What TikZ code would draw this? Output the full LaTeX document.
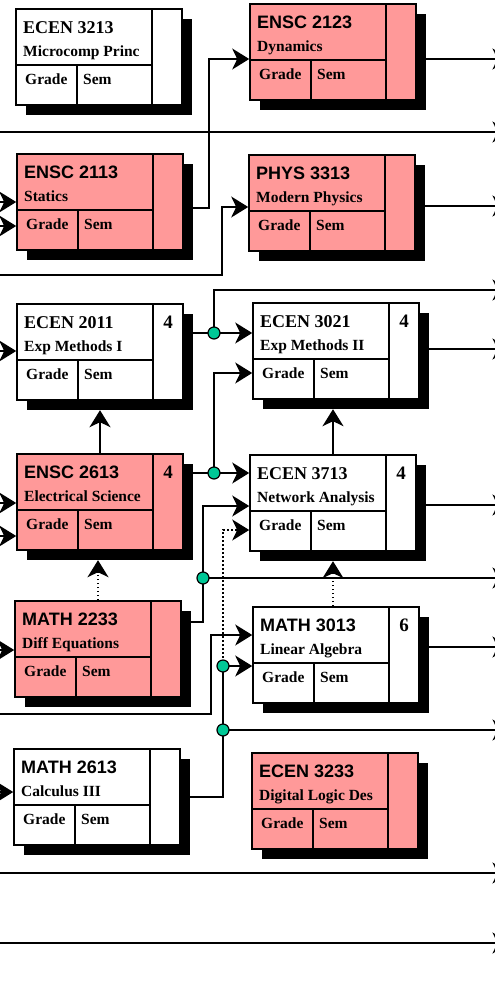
\documentclass[tikz,border=0pt]{standalone}
\usepackage{fontspec}
\setmainfont{Liberation Serif}
\setsansfont{Liberation Sans}
\usetikzlibrary{arrows.meta}
\definecolor{crspink}{HTML}{FF9999}
\definecolor{jointgreen}{HTML}{00C896}
\tikzset{
  >={Stealth[length=17pt, width=21pt, inset=5pt]},
  every picture/.style={line join=miter},
  coursebox/.style={draw, line width=1.6pt, minimum width=166pt, minimum height=96pt, inner sep=0pt},
  boxshadow/.style={fill=black, minimum width=166pt, minimum height=96pt, inner sep=0pt},
  boxline/.style={line width=1.6pt},
  wire/.style={line width=1.6pt, ->},
  dotwire/.style={line width=1.6pt, ->, dash pattern=on 1.6pt off 2.4pt},
  joint/.style={circle, draw, fill=jointgreen, line width=1.2pt, minimum size=12pt, inner sep=0pt},
  codetext/.style={anchor=base west, inner sep=0pt, font=\bfseries\fontsize{18}{20}\selectfont},
  titletext/.style={anchor=base west, inner sep=0pt, font=\bfseries\fontsize{15.5}{17}\selectfont},
  numtext/.style={anchor=base, inner sep=0pt, font=\bfseries\fontsize{19}{21}\selectfont},
}
% course box: name, x, y (top left), fill, code, title, credit hours
\newcommand\course[7]{%
  \node[boxshadow] (#1s) at (#2+93,#3+58) {};
  \node[coursebox, fill=#4] (#1) at (#2+83,#3+48) {};
  \draw[boxline] (#2,#3+56) -- (#2+136,#3+56) (#2+61,#3+56) -- (#2+61,#3+96)
    (#2+136,#3) -- (#2+136,#3+96);
  \node[codetext] (#1-c) at (#2+7,#3+24) {#5};
  \node[titletext] (#1-t) at (#2+7,#3+47) {#6};
  \node[titletext] (#1-g) at (#2+9,#3+75) {Grade};
  \node[titletext] (#1-s) at (#2+67,#3+75) {Sem};
  \node[numtext] (#1-n) at (#2+151,#3+24) {#7};}

\begin{document}
\begin{tikzpicture}[x=1pt, y=-1pt]
  \useasboundingbox (0,0) rectangle (495,993);
  \clip (0,0) rectangle (495,993);
  \coordinate (lft) at (-20,0);
  \coordinate (rgt) at (509.5,0);
  % ---------------- courses
  \course{ecen3213}{16}{9}{white}{ECEN 3213}{Microcomp Princ}{}
  \course{ensc2123}{250}{4}{crspink}{\sffamily ENSC 2123}{Dynamics}{}
  \course{ensc2113}{17}{154}{crspink}{\sffamily ENSC 2113}{Statics}{}
  \course{phys3313}{249}{155}{crspink}{\sffamily PHYS 3313}{Modern Physics}{}
  \course{ecen2011}{17}{304}{white}{ECEN 2011}{Exp Methods I}{4}
  \course{ecen3021}{253}{303}{white}{ECEN 3021}{Exp Methods II}{4}
  \course{ensc2613}{17}{454}{crspink}{\sffamily ENSC 2613}{Electrical Science}{4}
  \course{ecen3713}{250}{455}{white}{ECEN 3713}{Network Analysis}{4}
  \course{math2233}{15}{601}{crspink}{\sffamily MATH 2233}{Diff Equations}{}
  \course{math3013}{253}{607}{white}{\sffamily MATH 3013}{Linear Algebra}{6}
  \course{math2613}{14}{749}{white}{\sffamily MATH 2613}{Calculus III}{}
  \course{ecen3233}{252}{753}{crspink}{\sffamily ECEN 3233}{Digital Logic Des}{}
  % ---------------- branch points
  \coordinate (j1) at (214,333);
  \coordinate (j2) at (214,473);
  \coordinate (j3) at (203,578);
  \coordinate (j4) at (223,666);
  \coordinate (j5) at (223,730);
  % ---------------- lines passing through
  \foreach \y in {132,873,943} \draw[wire] (lft |- 0,\y) -- (rgt |- 0,\y);
  % inputs from the left
  \foreach \y in {202,226} \draw[wire] (lft |- 0,\y) -- (ensc2113.west |- 0,\y);
  \draw[wire] (lft |- 0,351) -- (ecen2011.west |- 0,351);
  \foreach \y in {503,536} \draw[wire] (lft |- 0,\y) -- (ensc2613.west |- 0,\y);
  \draw[wire] (lft |- 0,650) -- (math2233.west |- 0,650);
  \draw[wire] (lft |- 0,792) -- (math2613.west |- 0,792);
  \draw[wire] (lft |- 0,275) -| (222,207) -- (phys3313.west |- 0,207);
  \draw[wire] (lft |- 0,714) -| (211,635) -- (math3013.west |- 0,635);
  % outputs to the right
  \draw[wire] (ensc2123s.east |- 0,59) -- (rgt |- 0,59);
  \draw[wire] (phys3313s.east |- 0,206) -- (rgt |- 0,206);
  \draw[wire] (ecen3021s.east |- 0,349) -- (rgt |- 0,349);
  \draw[wire] (ecen3713s.east |- 0,505) -- (rgt |- 0,505);
  \draw[wire] (math3013s.east |- 0,647) -- (rgt |- 0,647);
  % prerequisites
  \draw[wire] (ensc2113s.east |- 0,208) -| (209,59) -- (ensc2123.west |- 0,59);
  \draw[wire] (ecen2011s.east |- j1) -- (ecen3021.west |- j1);
  \draw[wire] (j1) |- (rgt |- 0,290);
  \draw[wire] (ensc2613s.east |- j2) -- (ecen3713.west |- j2);
  \draw[wire] (j2) |- (ecen3021.west |- 0,373);
  \draw[wire] (math2233s.east |- 0,622) -| (j3) |- (ecen3713.west |- 0,506);
  \draw[wire] (j3) -- (j3 -| rgt);
  \draw[dotwire] (j4) |- (ecen3713.west |- 0,530);
  \draw[wire] (j4) -- (math3013.west |- j4);
  \draw[line width=1.6pt] (math2613s.east |- 0,797) -| (j5) -- (j4);
  \draw[wire] (j5) -- (j5 -| rgt);
  \draw[wire] (ensc2613.north) -- (ensc2613.north |- ecen2011s.south);
  \draw[wire] (ecen3713.north) -- (ecen3713.north |- ecen3021s.south);
  \draw[dotwire] (math2233.north) -- (math2233.north |- ensc2613s.south);
  \draw[dotwire] (ecen3713.north |- math3013.north) -- (ecen3713.north |- ecen3713s.south);
  \foreach \j in {j1,j2,j3,j4,j5} \node[joint] (\j-dot) at (\j) {};
\end{tikzpicture}
\end{document}
